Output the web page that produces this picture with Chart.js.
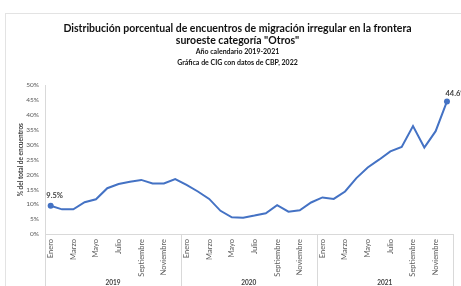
<!DOCTYPE html>
<html>
<head>
<meta charset="utf-8">
<script src="https://cdn.jsdelivr.net/npm/chart.js@4"></script>
<style>
  html, body { margin: 0; padding: 0; background: #fff; }
  #wrap { position: relative; width: 461px; height: 286px; }
</style>
</head>
<body>
<div id="wrap"><canvas id="lineChart"></canvas></div>
<script>
const years = ['2019', '2020', '2021'];
const monthNames = ['Enero', 'Febrero', 'Marzo', 'Abril', 'Mayo', 'Junio', 'Julio',
  'Agosto', 'Septiembre', 'Octubre', 'Noviembre', 'Diciembre'];
const labels = years.flatMap(y => monthNames.map(m => m + ' ' + y));

// porcentaje mensual de la categoria "Otros"
const share2019 = [9.5, 8.3, 8.3, 10.7, 11.7, 15.4, 16.8, 17.6, 18.2, 17.0, 17.0, 18.5];
const share2020 = [16.5, 14.3, 11.8, 7.8, 5.6, 5.5, 6.2, 7.0, 9.7, 7.5, 8.0, 10.6];
const share2021 = [12.3, 11.8, 14.3, 18.8, 22.4, 25.0, 27.8, 29.3, 36.3, 29.1, 34.6, 44.6];
const values = [...share2019, ...share2020, ...share2021];

const yTicks = [0, 5, 10, 15, 20, 25, 30, 35, 40, 45, 50];

const FONT = 'Lato, "Open Sans", sans-serif';
const blue = '#4472C4';
const lastIdx = values.length - 1;

// marco, etiquetas de años y etiquetas de datos
const extrasPlugin = {
  id: 'extras',
  beforeDraw(chart) {
    const ctx = chart.ctx;
    ctx.save();
    ctx.strokeStyle = '#e3e3e3';
    ctx.lineWidth = 1;
    ctx.strokeRect(5.5, 13.5, 480, 300);
    ctx.restore();
  },
  afterDraw(chart) {
    const ctx = chart.ctx;
    const x = chart.scales.x;
    const area = chart.chartArea;
    const bottom = chart.height;
    ctx.save();
    ctx.strokeStyle = '#d9d9d9';
    ctx.lineWidth = 1;
    const seps = [x.left];
    for (let i = 1; i < years.length; i++) {
      const a = x.getPixelForValue(i * 12 - 1);
      const b = x.getPixelForValue(i * 12);
      seps.push((a + b) / 2);
    }
    seps.push(x.right);
    seps.forEach(sx => {
      ctx.beginPath();
      ctx.moveTo(Math.round(sx) + 0.5, area.bottom);
      ctx.lineTo(Math.round(sx) + 0.5, bottom);
      ctx.stroke();
    });
    ctx.fillStyle = '#404040';
    ctx.font = 'bold 6.5px ' + FONT;
    ctx.textAlign = 'center';
    ctx.textBaseline = 'middle';
    years.forEach((yr, i) => {
      ctx.fillText(yr, (seps[i] + seps[i + 1]) / 2, bottom - 3);
    });

    const pts = chart.getDatasetMeta(0).data;
    ctx.font = 'bold 7.5px ' + FONT;
    ctx.fillStyle = '#404040';
    const first = pts[0];
    ctx.fillText(values[0].toFixed(1) + '%', first.x + 4, first.y - 10);
    const last = pts[lastIdx];
    ctx.fillText(values[lastIdx].toFixed(1) + '%', last.x + 9, last.y - 8);
    ctx.restore();
  }
};

new Chart(document.getElementById('lineChart'), {
  type: 'line',
  data: {
    labels: labels,
    datasets: [{
      label: 'Otros',
      data: values,
      borderColor: blue,
      backgroundColor: blue,
      borderWidth: 2,
      tension: 0,
      pointRadius: ctx => (ctx.dataIndex === 0 || ctx.dataIndex === lastIdx) ? 3 : 0,
      pointBackgroundColor: blue,
      pointBorderColor: blue,
      pointBorderWidth: 0
    }]
  },
  options: {
    responsive: true,
    maintainAspectRatio: false,
    animation: false,
    layout: { autoPadding: false, padding: { left: 16, right: 2, top: 0, bottom: 0 } },
    plugins: {
      legend: { display: false },
      tooltip: { enabled: false },
      title: {
        display: true,
        text: ['Distribución porcentual de encuentros de migración irregular en la frontera',
               'suroeste categoría "Otros"'],
        color: '#111',
        font: { family: FONT, size: 10.5, weight: 'bold', lineHeight: 1.1 },
        padding: { top: 23, bottom: 0 }
      },
      subtitle: {
        display: true,
        text: ['Año calendario 2019-2021', 'Gráfica de CIG con datos de CBP, 2022'],
        color: '#111',
        font: { family: FONT, size: 7, weight: 'bold', lineHeight: 1.45 },
        padding: { top: 1, bottom: 18 }
      }
    },
    scales: {
      x: {
        grid: { display: false, drawTicks: false },
        border: { display: true, color: '#d9d9d9', width: 1 },
        offset: true,
        afterFit: scale => { scale.height = 52; },
        ticks: {
          autoSkip: false,
          minRotation: 90,
          maxRotation: 90,
          padding: 5,
          color: '#595959',
          font: { family: FONT, size: 7.5 },
          callback: (val, i) => (i % 2 === 0 ? monthNames[i % 12] : '')
        }
      },
      y: {
        min: 0,
        max: 50,
        grid: { display: false, drawTicks: false },
        border: { display: true, color: '#d9d9d9', width: 1 },
        afterFit: scale => { scale.width = 29; },
        afterBuildTicks: scale => { scale.ticks = yTicks.map(v => ({ value: v })); },
        title: {
          display: true,
          text: '% del total de encuentros',
          color: '#404040',
          font: { family: FONT, size: 6.5, weight: 'bold' },
          padding: { top: 1, bottom: 0 }
        },
        ticks: {
          padding: 6,
          color: '#595959',
          font: { family: FONT, size: 6.5 },
          callback: v => v + '%'
        }
      }
    }
  },
  plugins: [extrasPlugin]
});
</script>
</body>
</html>
